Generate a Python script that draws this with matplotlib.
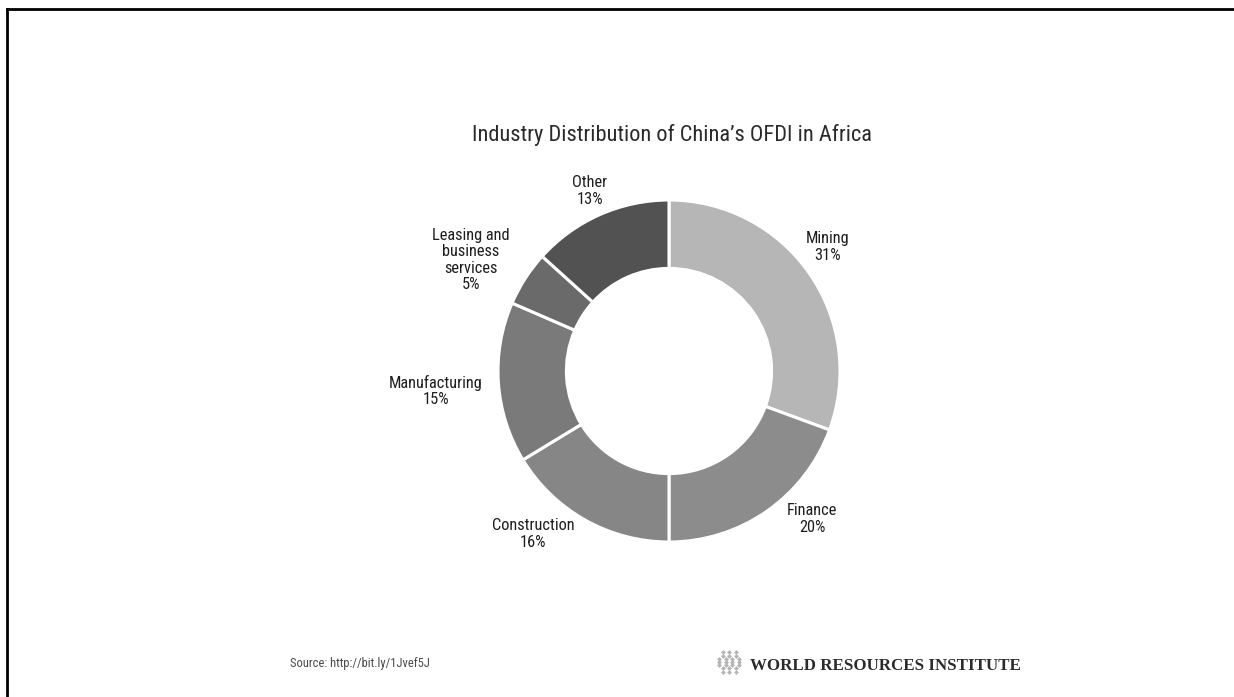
import numpy as np
import matplotlib

matplotlib.use("Agg")
import matplotlib.pyplot as plt
from matplotlib.lines import Line2D

# data
industries = ["Mining", "Finance", "Construction", "Manufacturing",
              "Leasing and\nbusiness\nservices", "Other"]
shares = [30.6, 19.4, 16.3, 15.2, 5.2, 13.3]
pct_labels = ["31%", "20%", "16%", "15%", "5%", "13%"]
colors = ["#b6b6b6", "#8c8c8c", "#868686", "#7a7a7a", "#6a6a6a", "#525252"]

title = "Industry Distribution of China\u2019s OFDI in Africa"
source = "Source: http://bit.ly/1Jvef5J"
brand = "WORLD RESOURCES INSTITUTE"

# label centres, in pixels from the top-left of the picture
label_pos = [(828, 247), (812, 519), (533, 534), (436, 391), (471, 260), (590, 191)]

W, H = 1234, 697
narrow = ["Roboto Condensed", "DejaVu Sans Condensed", "DejaVu Sans"]

fig = plt.figure(figsize=(W / 100, H / 100), dpi=100)
fig.patch.set_facecolor("white")
ax = fig.add_axes([0, 0, 1, 1])
renderer = fig.canvas.get_renderer()


def fit_width(txt, target):
    # scale the font so the text is about as wide as in the original
    w = txt.get_window_extent(renderer).width
    txt.set_fontsize(txt.get_fontsize() * target / w)


cx, cy, R = 669, H - 371, 171
ax.pie(
    shares,
    colors=colors,
    startangle=90,
    counterclock=False,
    center=(cx, cy),
    radius=R,
    wedgeprops=dict(width=0.4 * R, edgecolor="white", linewidth=2.2),
)
ax.set_xlim(0, W)
ax.set_ylim(0, H)
ax.set_aspect("equal")
ax.axis("off")

for name, pct, (px, py) in zip(industries, pct_labels, label_pos):
    ax.text(px, H - py, f"{name}\n{pct}", ha="center", va="center",
            fontsize=11.8, color="#1e1e1e", family=narrow, linespacing=1.12)

t = ax.text(672, H - 135, title, ha="center", va="center", fontsize=15,
            color="#2a2a2a", family=narrow)
fit_width(t, 399)

ax.text(290, H - 663, source, ha="left", va="center", fontsize=9,
        color="#4a4a4a", family=narrow)

# logo: small lattice of diamonds
lx, ly = 729, H - 662
pts = []
for r in range(-3, 4):
    n = 4 - abs(r) // 2
    for k in range(n):
        pts.append((lx + (k - (n - 1) / 2) * 6.5, ly + r * 3.2))
pts = np.array(pts)
ax.scatter(pts[:, 0], pts[:, 1], marker="D", s=6, color="#b4b4b4",
           linewidths=0)

b = ax.text(750, H - 666, brand, ha="left", va="center", fontsize=12,
            color="#2b2b2b", family=["Liberation Serif", "DejaVu Serif"],
            fontweight="bold")
fit_width(b, 268)

# frame lines at top and left
fig.add_artist(Line2D([7 / W, 1], [1 - 9 / H, 1 - 9 / H], color="black",
                      linewidth=2, transform=fig.transFigure))
fig.add_artist(Line2D([7 / W, 7 / W], [0, 1 - 9 / H], color="black",
                      linewidth=2, transform=fig.transFigure))

plt.savefig("out.png", dpi=100)
